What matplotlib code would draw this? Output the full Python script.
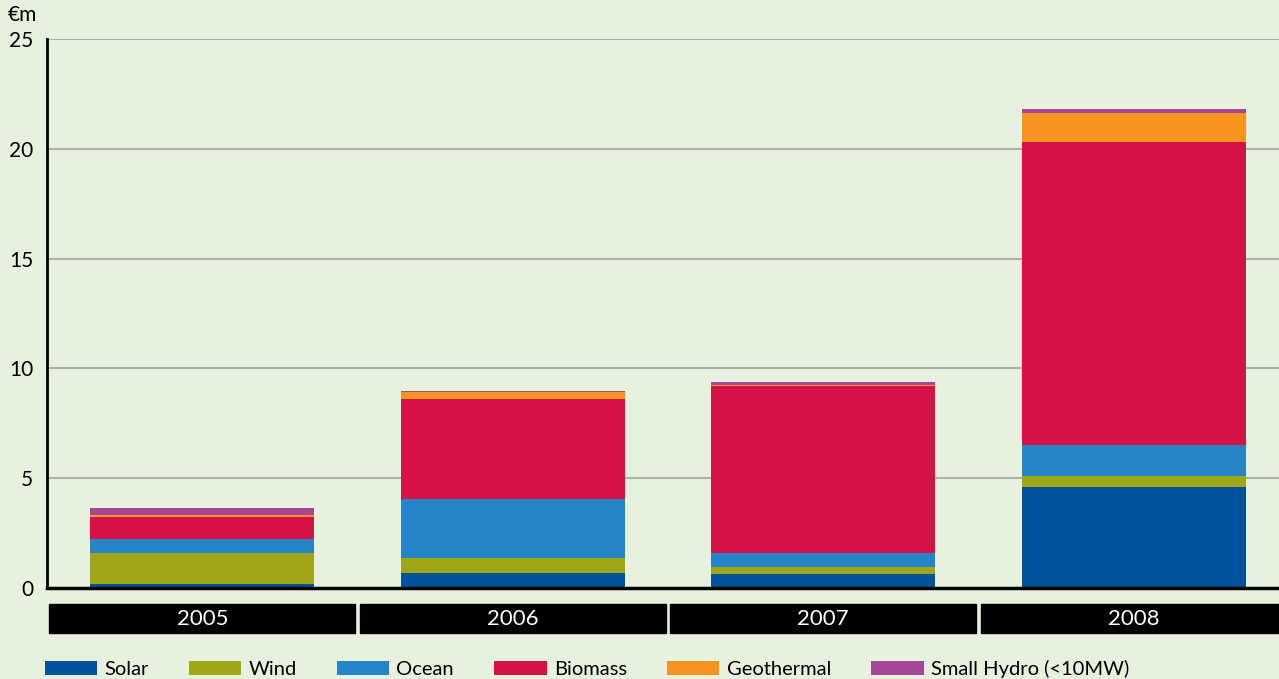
import matplotlib.pyplot as plt
from matplotlib.patches import Rectangle
from matplotlib.transforms import blended_transform_factory

years = ["2005", "2006", "2007", "2008"]
solar = [0.18, 0.68, 0.64, 4.60]
wind = [1.41, 0.69, 0.32, 0.50]
ocean = [0.64, 2.68, 0.63, 1.41]
biomass = [1.00, 4.56, 7.62, 13.80]
geothermal = [0.09, 0.32, 0.03, 1.32]
small_hydro = [0.32, 0.04, 0.14, 0.18]

names = ["Solar", "Wind", "Ocean", "Biomass", "Geothermal", "Small Hydro (<10MW)"]
colors = ["#00529b", "#9fa617", "#2585c7", "#d41245", "#f7941f", "#a54796"]
bg = "#e7f2de"

plt.rcParams['font.family'] = ['Lato', 'DejaVu Sans']

W, H = 1279, 679
fig = plt.figure(figsize=(W / 100, H / 100), dpi=100, facecolor=bg)
ax = fig.add_axes([47 / W, (H - 588) / H, (1289 - 47) / W, (588 - 39) / H])
ax.set_facecolor(bg)

x = range(len(years))
bottom = [0] * len(years)
for vals, name, c in zip([solar, wind, ocean, biomass, geothermal, small_hydro], names, colors):
    ax.bar(x, vals, width=0.72, bottom=bottom, color=c, label=name, zorder=3)
    bottom = [b + v for b, v in zip(bottom, vals)]

ax.set_xlim(-0.5, 3.5)
ax.set_ylim(0, 25)
ax.set_yticks([0, 5, 10, 15, 20, 25])
ax.set_xticks([])
ax.grid(axis='y', color='#b0b0ab', linewidth=1.5, zorder=1)
ax.tick_params(axis='y', length=0, pad=10, labelsize=15)
for s in ['top', 'right']:
    ax.spines[s].set_visible(False)
ax.spines['left'].set_linewidth(2)
ax.spines['bottom'].set_linewidth(2.5)
ax.spines['left'].set_zorder(4)
ax.spines['bottom'].set_zorder(4)

fig.text(8 / W, 1 - 15 / H, "€m", fontsize=15, va='center', ha='left')

# black year bands under the axis
tr = blended_transform_factory(ax.transData, fig.transFigure)
for i, yr in enumerate(years):
    ax.add_patch(Rectangle((i - 0.5 + 0.008, (H - 633) / H), 1 - 0.016, 29 / H,
                           transform=tr, color='black', clip_on=False))
    ax.text(i, (H - 619) / H, yr, transform=tr, color='white', fontsize=16,
            ha='center', va='center')

fig.legend(loc='center left', bbox_to_anchor=(45 / W, 1 - 669 / H), ncol=6,
           frameon=False, fontsize=14.5, handlelength=2.6, handleheight=0.75,
           handletextpad=0.35, columnspacing=2.0, borderpad=0, borderaxespad=0)

fig.savefig("out.png", dpi=100, facecolor=bg)
